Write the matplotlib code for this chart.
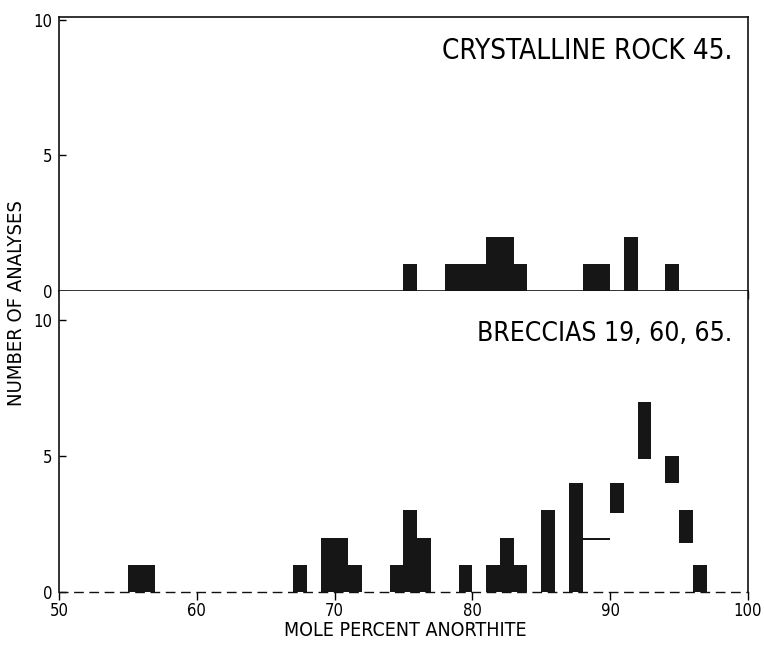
"""Two stacked histograms of plagioclase composition (mole percent anorthite)."""
import matplotlib
matplotlib.use("Agg")
import matplotlib.pyplot as plt

# Crystalline rock 45: bin left edges (1 mol% wide) and counts
top_bins = [75, 78, 79, 80, 81, 82, 83, 88, 89, 91, 94]
top_counts = [1, 1, 1, 1, 2, 2, 1, 1, 1, 2, 1]

# Breccias 19, 60, 65: total counts per bin
bot_bins = [55, 56, 67, 69, 70, 71, 74, 75, 76, 79, 81, 82, 83, 85,
            87, 88, 89, 90, 91, 92, 93, 94, 95, 96]
bot_counts = [1, 1, 1, 2, 2, 1, 1, 3, 2, 1, 1, 2, 1, 3,
              4, 2, 2, 4, 4, 7, 5, 5, 3, 1]

# light (washed-out stipple) part of the breccia bars
light_bins = [88, 89, 90, 91, 92, 93, 94, 95]
light_counts = [1.9, 1.9, 2.9, 4, 4.9, 5, 4.0, 1.8]

x_ticks = [50, 60, 70, 80, 90, 100]
y_ticks = [0, 5, 10]

BAR = "#161616"
plt.rcParams["font.family"] = ["DejaVu Sans"]
plt.rcParams["font.stretch"] = "condensed"

fig = plt.figure(figsize=(7.64, 6.45), dpi=100)
left, right = 0.0772, 0.979
ax_top = fig.add_axes([left, 0.5488, right - left, 0.9736 - 0.5488])
ax_bot = fig.add_axes([left, 0.0822, right - left, 0.5488 - 0.0822])

ax_top.bar(top_bins, top_counts, width=1, align="edge", color=BAR, linewidth=0)
ax_bot.bar(bot_bins, bot_counts, width=1, align="edge", color=BAR, linewidth=0)
ax_bot.bar(light_bins, light_counts, width=1, align="edge", color="white", linewidth=0)

for ax in (ax_top, ax_bot):
    ax.set_xlim(50, 100)
    ax.set_xticks(x_ticks)
    ax.set_yticks(y_ticks)
    ax.tick_params(axis="y", direction="in", length=5, width=1, labelsize=12, pad=5)
    ax.tick_params(axis="x", direction="out", length=6, width=1, labelsize=12, pad=1)
    for s in ax.spines.values():
        s.set_linewidth(1.2)
        s.set_color("#111111")

ax_top.set_ylim(0, 10.1)
ax_bot.set_ylim(0, 11.07)
ax_top.tick_params(axis="x", labelbottom=False)
ax_bot.spines["top"].set_visible(False)
# the scanned baseline of the lower panel is broken up
ax_bot.spines["bottom"].set_linestyle((0, (6, 5)))
ax_bot.spines["bottom"].set_linewidth(1.0)

ax_top.text(0.977, 0.876, "CRYSTALLINE ROCK 45.", transform=ax_top.transAxes,
            ha="right", va="center", fontsize=20)
ax_bot.text(0.977, 0.857, "BRECCIAS 19, 60, 65.", transform=ax_bot.transAxes,
            ha="right", va="center", fontsize=19)

fig.text(0.531, 0.023, "MOLE PERCENT ANORTHITE", ha="center", va="center",
         fontsize=14)
fig.text(0.021, 0.53, "NUMBER OF ANALYSES", rotation=90, ha="center",
         va="center", fontsize=14.5)

fig.savefig("out.png", dpi=100)
